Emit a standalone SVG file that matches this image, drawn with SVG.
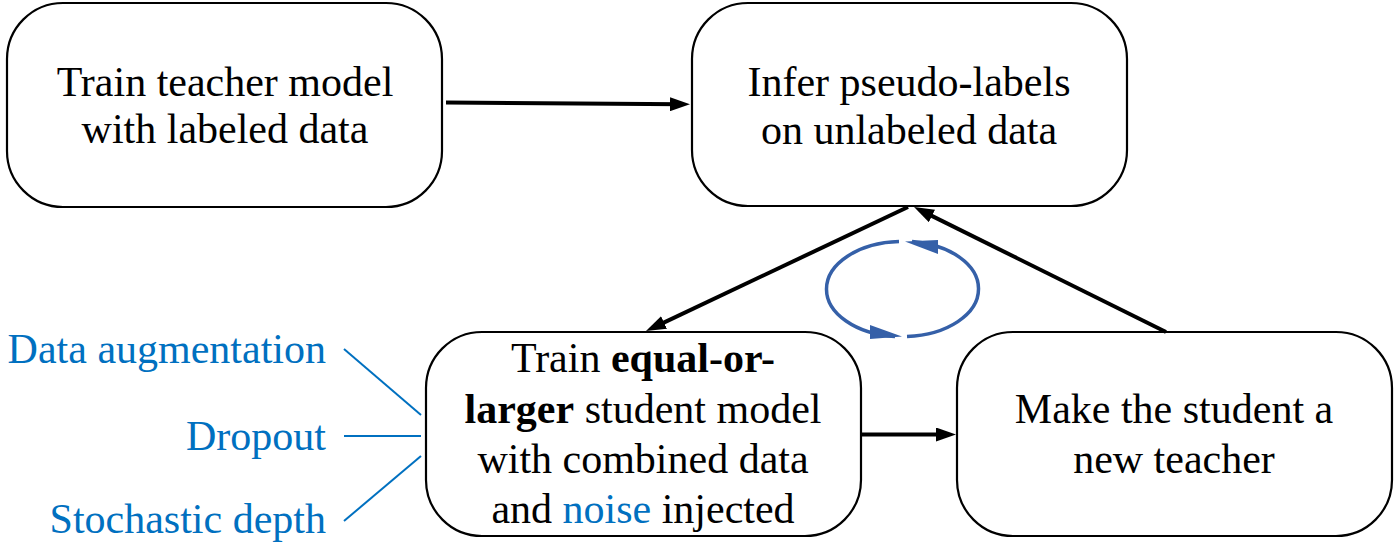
<svg xmlns="http://www.w3.org/2000/svg" width="1399" height="548" viewBox="0 0 1399 548">
  <style>
    .box { fill: #ffffff; stroke: #000000; stroke-width: 2.2; }
    .t { font-family: "Liberation Serif", "Times New Roman", serif; font-size: 42px; fill: #000000; text-anchor: middle; }
    .b { font-weight: bold; }
    .blue { fill: #0070C0; }
    .lbl { font-family: "Liberation Serif", "Times New Roman", serif; font-size: 42px; fill: #0070C0; text-anchor: end; }
    .conn { stroke: #000000; stroke-width: 4; fill: none; marker-end: url(#ah); }
    .noise { stroke: #0070C0; stroke-width: 2; fill: none; }
    .cyc { stroke: #3560A8; stroke-width: 3.5; fill: none; }
  </style>
  <defs>
    <marker id="ah" viewBox="0 0 20 14" refX="12" refY="7" markerWidth="20" markerHeight="14" markerUnits="userSpaceOnUse" orient="auto">
      <path d="M0,0 L20,7 L0,14 z" fill="#000000"/>
    </marker>
  </defs>

  <g id="node-teacher">
    <rect class="box" x="7" y="3" width="435" height="204" rx="56" ry="56"/>
    <text class="t" x="225" y="96">Train teacher model</text>
    <text class="t" x="225" y="143">with labeled data</text>
  </g>

  <g id="node-infer">
    <rect class="box" x="692" y="3" width="435" height="203" rx="56" ry="56"/>
    <text class="t" x="909" y="96">Infer pseudo-labels</text>
    <text class="t" x="909" y="144">on unlabeled data</text>
  </g>

  <g id="node-student">
    <rect class="box" x="426" y="332" width="435" height="204" rx="56" ry="56"/>
    <text class="t" x="643" y="372">Train <tspan class="b">equal-or-</tspan></text>
    <text class="t" x="643" y="423"><tspan class="b">larger</tspan> student model</text>
    <text class="t" x="643" y="473">with combined data</text>
    <text class="t" x="643" y="523">and <tspan class="blue">noise</tspan> injected</text>
  </g>

  <g id="node-newteacher">
    <rect class="box" x="957" y="332" width="435" height="204" rx="56" ry="56"/>
    <text class="t" x="1174" y="423">Make the student a</text>
    <text class="t" x="1174" y="473">new teacher</text>
  </g>

  <g id="noise-labels">
    <text class="lbl" x="326" y="363">Data augmentation</text>
    <text class="lbl" x="326" y="450">Dropout</text>
    <text class="lbl" x="326" y="533">Stochastic depth</text>
  </g>

  <g id="connectors">
    <line class="conn" x1="446" y1="102.5" x2="682" y2="104.3"/>
    <line class="conn" x1="1166" y1="332" x2="921.2" y2="210.6"/>
    <line class="conn" x1="908" y1="207" x2="653.2" y2="327.6"/>
    <line class="conn" x1="862" y1="434.5" x2="948" y2="434.5"/>
    <line class="noise" x1="344" y1="349" x2="421" y2="415"/>
    <line class="noise" x1="344" y1="436" x2="421" y2="436"/>
    <line class="noise" x1="344" y1="521" x2="421" y2="456"/>
  </g>

  <g id="cycle">
    <path class="cyc" d="M 899 241.5 A 76 47.5 0 0 0 826.5 289 A 76 47.5 0 0 0 895 336.5"/>
    <path class="cyc" d="M 907 336.5 A 76 47.5 0 0 0 978.5 289 A 76 47.5 0 0 0 912 241.5"/>
    <polygon points="905,241.5 938,240 938,254" fill="#3560A8"/>
    <polygon points="870,325 870,339 902,336.5" fill="#3560A8"/>
  </g>
</svg>
